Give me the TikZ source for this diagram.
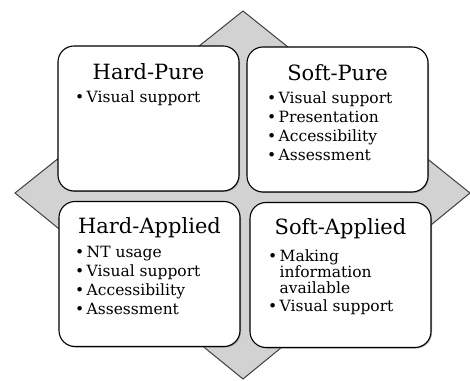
\documentclass[tikz,border=0pt]{standalone}
\usepackage{fontspec}
\setmainfont{DejaVu Serif}
\usetikzlibrary{positioning,shadows,calc}

\begin{document}
\begin{tikzpicture}
	[x=1pt,y=1pt,every node/.style={inner sep=0pt,outer sep=0pt}]
	\tikzset{quad/.style = {draw=black,line width=1.1pt,fill=white,rounded corners=16pt,
			minimum width=181pt,minimum height=145pt,
			drop shadow={shadow xshift=1pt,shadow yshift=-1pt,opacity=.6}},
		heading/.style = {anchor=base,font=\fontsize{21}{24}\selectfont},
		items/.style = {anchor=north west,align=left,font=\fontsize{15.5}{19}\selectfont}}
	\useasboundingbox (0,0) rectangle (470,380);
	% grey diamond behind the four boxes
	\coordinate (dt) at (243,369);
	\coordinate (dr) at (470,187);
	\coordinate (db) at (243,1);
	\coordinate (dl) at (15,187);
	\draw[fill=gray!35,draw=black!75,line width=1pt] (dt)--(dr)--(db)--(dl)--cycle;
	
	\node[quad] (hp) at (148.5,261.5) {};
	\node[quad] (sp) at (337.5,260.5) {};
	\node[quad] (ha) at (149.5,106) {};
	\node[quad] (sa) at (340.5,105) {};
	
	\node[heading] (hpt) at ($(hp.north)+(0,-34)$) {Hard-Pure};
	\node[heading] (spt) at ($(sp.north)+(0,-34)$) {Soft-Pure};
	\node[heading] (hat) at ($(ha.north)+(0,-32)$) {Hard-Applied};
	\node[heading] (sat) at ($(sa.north)+(0,-32)$) {Soft-Applied};
	
	\node[items] (hpl) at ($(hp.north west)+(17,-45)$) {\textbullet\,Visual support};
	\node[items] (spl) at ($(sp.north west)+(20,-45)$) {\textbullet\,Visual support\\
		\textbullet\,Presentation\\ \textbullet\,Accessibility\\ \textbullet\,Assessment};
	\node[items] (hal) at ($(ha.north west)+(16,-45)$) {\textbullet\,NT usage\\
		\textbullet\,Visual support\\ \textbullet\,Accessibility\\ \textbullet\,Assessment};
	\node[items,font=\fontsize{15.5}{16}\selectfont] (sal) at ($(sa.north west)+(18,-47)$)
		{\textbullet\,Making\\ \hphantom{\textbullet\,}information\\
		\hphantom{\textbullet\,}available\\[2pt] \textbullet\,Visual support};
\end{tikzpicture}
\end{document}
